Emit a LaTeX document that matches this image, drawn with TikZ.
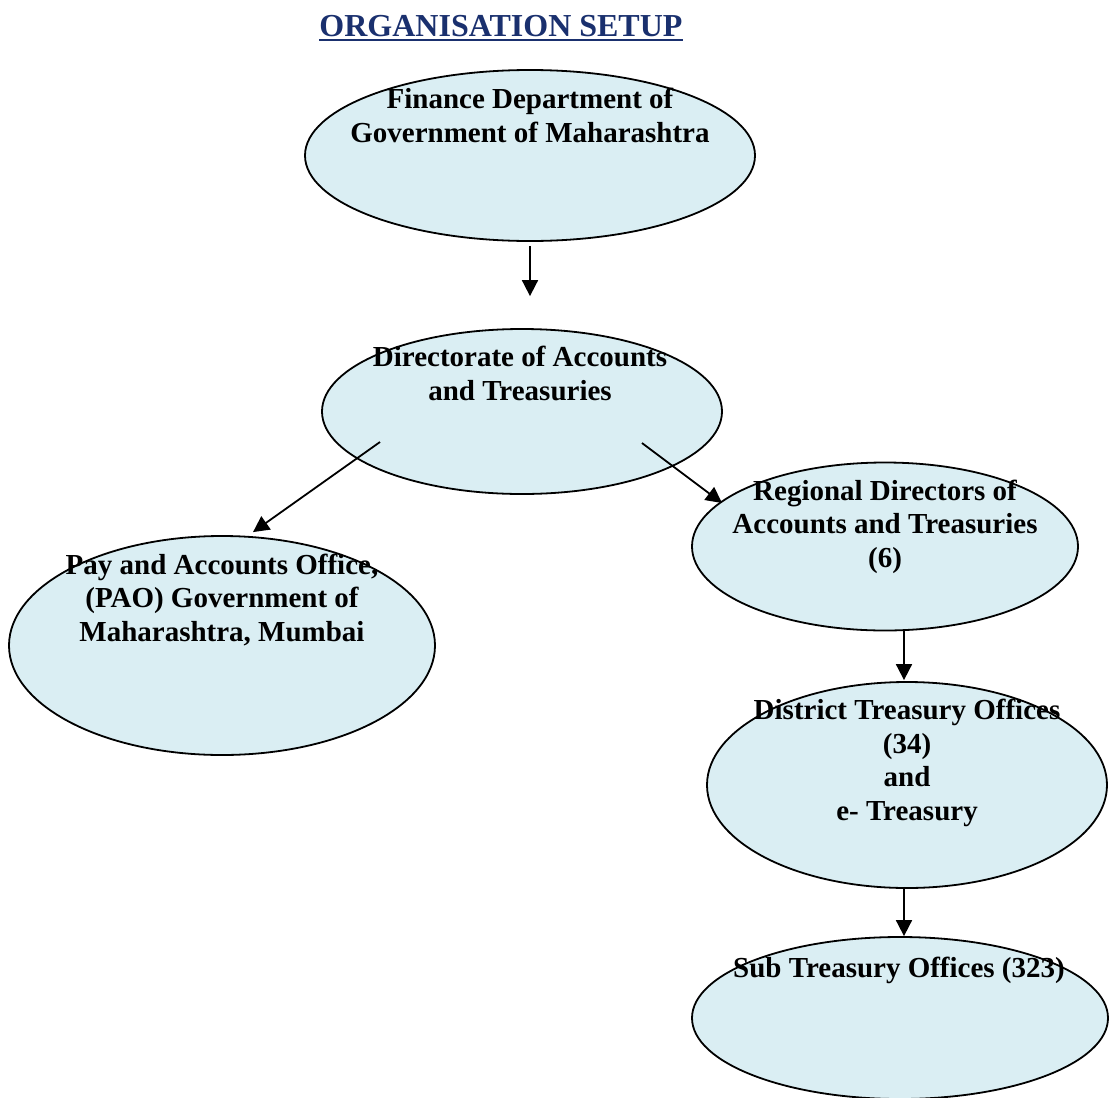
\documentclass[tikz,border=0pt]{standalone}
\usepackage{fontspec}
\setmainfont{Liberation Serif}
\usetikzlibrary{shapes.geometric,arrows.meta}
\definecolor{officeblue}{HTML}{DAEEF3}
\definecolor{titleblue}{RGB}{26,48,110}

\begin{document}
\begin{tikzpicture}[x=1pt,y=-1pt,
  office/.style={ellipse, draw=black, line width=1.8pt, fill=officeblue, inner sep=0pt},
  officetext/.style={anchor=base, align=center, inner sep=0pt, font=\bfseries\fontsize{29}{33.5}\selectfont},
  link/.style={line width=1.8pt, -{Triangle[length=16pt,width=16pt]}}]
  \useasboundingbox (0,0) rectangle (1109,1098);

  % Title
  \node[anchor=base, inner sep=0pt, text=titleblue, font=\bfseries\fontsize{32}{36}\selectfont] (title) at (501,36) {ORGANISATION SETUP};
  \draw[titleblue, line width=2pt] ([shift={(0,4)}]title.base west) -- ([shift={(0,4)}]title.base east);

  % Draw the offices
  \node[office, minimum width=450pt, minimum height=171pt] (fin) at (530,155.5) {};
  \node[office, minimum width=400pt, minimum height=165pt] (dir) at (522,411.5) {};
  \node[office, minimum width=426pt, minimum height=219pt] (pao) at (222,645.5) {};
  \node[office, minimum width=386pt, minimum height=168pt] (reg) at (885,546.5) {};
  \node[office, minimum width=400pt, minimum height=206pt] (dis) at (907,785) {};
  \node[office, minimum width=416pt, minimum height=162pt] (sub) at (900,1018) {};

  % Labels (base = last line)
  \node[officetext] (fintext) at (530,142) {Finance Department of\\Government of Maharashtra};
  \node[officetext] (dirtext) at (520,400) {Directorate of Accounts\\and Treasuries};
  \node[officetext] (paotext) at (222,641) {Pay and Accounts Office,\\(PAO) Government of\\Maharashtra, Mumbai};
  \node[officetext] (regtext) at (885,567) {Regional Directors of\\Accounts and Treasuries\\(6)};
  \node[officetext] (distext) at (907,820) {District Treasury Offices\\(34)\\and\\e- Treasury};
  \node[officetext] (subtext) at (899,977) {Sub Treasury Offices (323)};

  % Arrows
  \draw[link] ([shift={(0,4)}]fin.south) -- ([shift={(8,-32)}]dir.north);
  \draw[link] ([shift={(-142,30.5)}]dir.center) -- ([shift={(31,-3)}]pao.north);
  \draw[link] ([shift={(120,31.5)}]dir.center) -- ([shift={(-163,-43.5)}]reg.center);
  \draw[link] ([shift={(19,0)}]reg.south) -- ([shift={(-3,-1)}]dis.north);
  \draw[link] ([shift={(-3,-2)}]dis.south) -- ([shift={(4,0)}]sub.north);
\end{tikzpicture}
\end{document}
